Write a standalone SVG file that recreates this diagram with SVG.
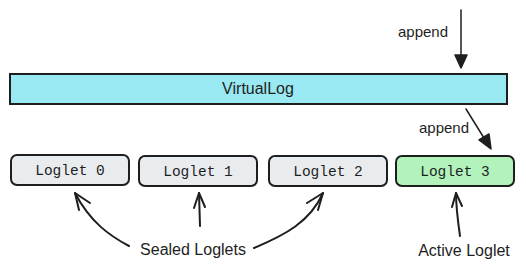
<svg xmlns="http://www.w3.org/2000/svg" width="526" height="272" viewBox="0 0 526 272">
<style>
.box{stroke:#1e1e1e;stroke-width:2}
.grey{fill:#e9ecef}
.green{fill:#b2f2bb}
.cyan{fill:#99e9f2}
.mono{font-family:"Liberation Mono","DejaVu Sans Mono",monospace;font-size:14.5px;fill:#1e1e1e;text-anchor:middle}
.sans{font-family:"Liberation Sans",Arial,sans-serif;font-size:16px;fill:#1e1e1e;text-anchor:middle}
.hand{font-family:"Liberation Sans",Arial,sans-serif;font-size:15px;fill:#1e1e1e;text-anchor:middle}
.line{fill:none;stroke:#1e1e1e;stroke-width:1.5;stroke-linecap:round;stroke-linejoin:round}
.curve{fill:none;stroke:#1e1e1e;stroke-width:2;stroke-linecap:round;stroke-linejoin:round}
.head{fill:#1e1e1e;stroke:#1e1e1e;stroke-width:1.5;stroke-linejoin:round}
</style>
<rect width="526" height="272" fill="#ffffff"/>
<g id="virtuallog">
<rect class="box cyan" x="10" y="74" width="497" height="30"/>
<text class="sans" x="258" y="94">VirtualLog</text>
</g>
<g id="loglet0">
<rect class="box grey" x="11" y="155" width="118" height="30" rx="6"/>
<text class="mono" x="70" y="175">Loglet 0</text>
</g>
<g id="loglet1">
<rect class="box grey" x="139" y="156" width="118" height="30" rx="6"/>
<text class="mono" x="198" y="176">Loglet 1</text>
</g>
<g id="loglet2">
<rect class="box grey" x="269" y="156" width="118" height="30" rx="6"/>
<text class="mono" x="328" y="176">Loglet 2</text>
</g>
<g id="loglet3">
<rect class="box green" x="396" y="156" width="118" height="30" rx="6"/>
<text class="mono" x="455" y="176">Loglet 3</text>
</g>
<g id="labels">
<text class="hand" x="423" y="37">append</text>
<text class="hand" x="444" y="133">append</text>
<text class="sans" x="193" y="255">Sealed Loglets</text>
<text class="sans" x="464" y="256">Active Loglet</text>
</g>
<g id="connectors">
<line class="line" x1="461" y1="10" x2="461" y2="56"/>
<polygon class="head" points="455,55 467,55 461,68"/>
<line class="line" x1="466" y1="109" x2="484" y2="138"/>
<polygon class="head" points="479,140 489,134 491,149"/>
<path class="curve" d="M129,246 C110,236 90,222 75,193"/>
<path class="curve" d="M75,193 L79,210 M75,193 L90,203"/>
<path class="curve" d="M200,226 L199,193"/>
<path class="curve" d="M199,193 L194,208 M199,193 L205,207"/>
<path class="curve" d="M254,248 C285,235 310,222 323,193"/>
<path class="curve" d="M323,193 L307,203 M323,193 L318,210"/>
<path class="curve" d="M460,236 C458,222 456,208 456,193"/>
<path class="curve" d="M456,193 L452,207 M456,193 L462,206"/>
</g>
</svg>
